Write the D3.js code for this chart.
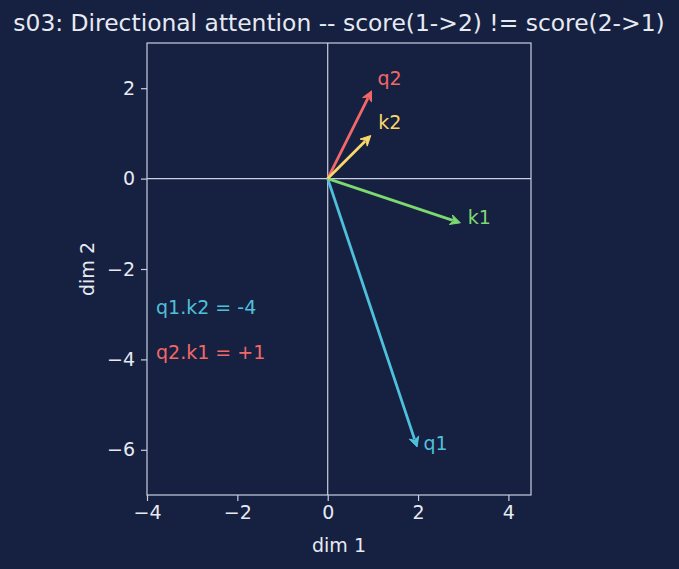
<!DOCTYPE html>
<html><head><meta charset="utf-8">
<script src="https://cdn.jsdelivr.net/npm/d3@7"></script>
<style>
html,body{margin:0;padding:0;background:#162040;}
svg{display:block;font-family:"DejaVu Sans",sans-serif;}
</style></head>
<body>
<script>
const names = ["q1","k1","q2","k2"];
const vx = [2, 3, 1, 1];
const vy = [-6, -1, 2, 1];
const colors = ["#4fc0dc","#7dd870","#f26868","#f8d86a"];
const labelX = [2.12, 3.1, 1.1, 1.12];
const labelY = [-6.0, -1.0, 2.08, 1.1];
const xTicks = [-4,-2,0,2,4];
const yTicks = [-6,-4,-2,0,2];
const xDomain = [-4, 4.5];
const yDomain = [-7, 3];
const notes = ["q1.k2 = -4", "q2.k1 = +1"];
const noteX = [-3.8, -3.8];
const noteY = [-3, -4];
const noteColors = ["#4fc0dc","#f26868"];

const W = 679, H = 569;
const L = 147, R = 531, T = 43, B = 495;
const fg = "#e6eaf2", axisCol = "#c9d0e0";
const FS = 19, TFS = 23.4;

const svg = d3.select("body").append("svg").attr("width",W).attr("height",H);
svg.append("rect").attr("width",W).attr("height",H).attr("fill","#162040");

const x = d3.scaleLinear().domain(xDomain).range([L,R]);
const y = d3.scaleLinear().domain(yDomain).range([B,T]);

svg.append("line").attr("x1",L).attr("x2",R).attr("y1",y(0)).attr("y2",y(0))
  .attr("stroke",axisCol).attr("stroke-width",1.2);
svg.append("line").attr("x1",x(0)).attr("x2",x(0)).attr("y1",T).attr("y2",B)
  .attr("stroke",axisCol).attr("stroke-width",1.2);

names.forEach((n,i)=>{
  const x0=x(0), y0=y(0), x1=x(vx[i]), y1=y(vy[i]);
  const dx=x1-x0, dy=y1-y0, len=Math.hypot(dx,dy);
  const ux=dx/len, uy=dy/len;
  const shrink=3;
  const tx=x1-ux*shrink, ty=y1-uy*shrink;
  const hl=10, hw=5;
  const bx=tx-ux*hl, by=ty-uy*hl;
  svg.append("line").attr("x1",x0).attr("y1",y0).attr("x2",bx+ux*2).attr("y2",by+uy*2)
    .attr("stroke",colors[i]).attr("stroke-width",2.8);
  const px=-uy, py=ux;
  svg.append("path")
    .attr("d",`M${tx},${ty}L${bx+px*hw},${by+py*hw}L${bx+ux*3},${by+uy*3}L${bx-px*hw},${by-py*hw}Z`)
    .attr("fill",colors[i]).attr("stroke",colors[i]).attr("stroke-width",1).attr("stroke-linejoin","miter");
  svg.append("text").attr("x",x(labelX[i])).attr("y",y(labelY[i]))
    .attr("fill",colors[i]).attr("font-size",FS).text(n);
});

notes.forEach((t,i)=>{
  svg.append("text").attr("x",x(noteX[i])).attr("y",y(noteY[i]))
    .attr("fill",noteColors[i]).attr("font-size",FS).text(t);
});

svg.append("rect").attr("x",L).attr("y",T).attr("width",R-L).attr("height",B-T)
  .attr("fill","none").attr("stroke",axisCol).attr("stroke-width",1.2);

const fmt = d => d<0 ? "\u2212"+Math.abs(d) : String(d);
const xa = svg.append("g").attr("transform",`translate(0,${B})`)
  .call(d3.axisBottom(x).tickValues(xTicks).tickFormat(fmt).tickSize(6).tickPadding(5));
const ya = svg.append("g").attr("transform",`translate(${L},0)`)
  .call(d3.axisLeft(y).tickValues(yTicks).tickFormat(fmt).tickSize(6).tickPadding(6));
[xa,ya].forEach(a=>{
  a.select(".domain").remove();
  a.selectAll("line").attr("stroke",axisCol).attr("stroke-width",1.2);
  a.selectAll("text").attr("fill",fg).attr("font-size",FS).attr("font-family","DejaVu Sans");
});

svg.append("text").attr("x",(L+R)/2).attr("y",552).attr("text-anchor","middle")
  .attr("fill",fg).attr("font-size",FS).text("dim 1");
svg.append("text").attr("transform",`translate(94,${(T+B)/2}) rotate(-90)`).attr("text-anchor","middle")
  .attr("fill",fg).attr("font-size",FS).text("dim 2");
svg.append("text").attr("x",(L+R)/2).attr("y",31).attr("text-anchor","middle")
  .attr("fill",fg).attr("font-size",TFS).text("s03: Directional attention -- score(1->2) != score(2->1)");
</script>
</body></html>
